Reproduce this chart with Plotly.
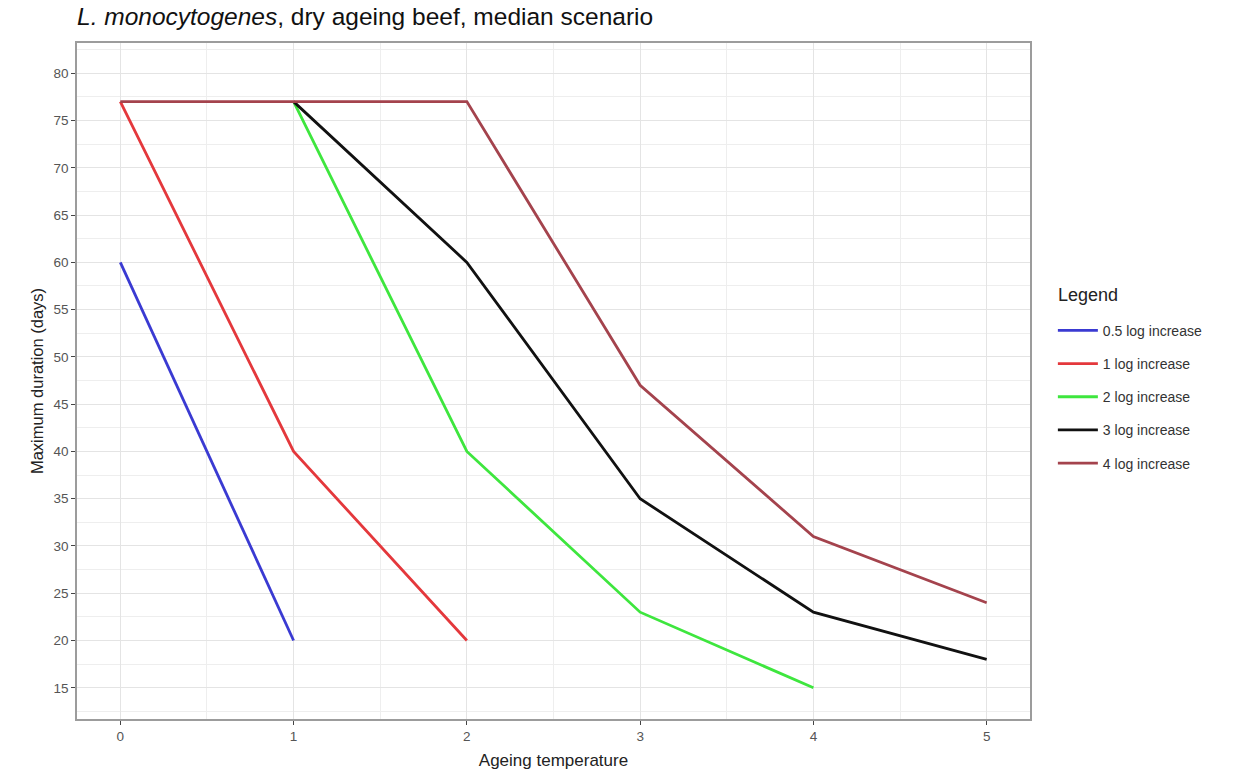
import plotly.graph_objects as go

# Ageing temperature (°C) and maximum duration (days) per growth threshold
temp_05 = [0, 1]
days_05 = [60, 20]

temp_1 = [0, 1, 2]
days_1 = [77, 40, 20]

temp_2 = [1, 2, 3, 4]
days_2 = [77, 40, 23, 15]

temp_3 = [1, 2, 3, 4, 5]
days_3 = [77, 60, 35, 23, 18]

temp_4 = [0, 1, 2, 3, 4, 5]
days_4 = [77, 77, 77, 47, 31, 24]

series_names = ["0.5 log increase", "1 log increase", "2 log increase",
                "3 log increase", "4 log increase"]
x_ticks = [0, 1, 2, 3, 4, 5]
y_ticks = [15, 20, 25, 30, 35, 40, 45, 50, 55, 60, 65, 70, 75, 80]

colors = ["#3a3ad2", "#e4383c", "#3ee63e", "#111111", "#a4434d"]
series = [(temp_05, days_05), (temp_1, days_1), (temp_2, days_2),
          (temp_3, days_3), (temp_4, days_4)]

fig = go.Figure()
for i, ((xs, ys), name, col) in enumerate(zip(series, series_names, colors)):
    fig.add_trace(go.Scatter(
        x=xs, y=ys, mode="lines", name=name,
        line=dict(color=col, width=2.8),
        legendgroup=f"g{i}",
    ))

font_family = "Liberation Sans, Arial, sans-serif"

# Legend heading placed above the legend entries
fig.add_annotation(
    text="Legend", xref="paper", yref="paper",
    x=1.0275, y=0.627, xanchor="left", yanchor="middle",
    showarrow=False, font=dict(size=18, color="#222222"),
)

fig.update_layout(
    width=1234, height=770,
    margin=dict(l=77, r=204, t=43, b=51),
    paper_bgcolor="white",
    plot_bgcolor="white",
    font=dict(family=font_family, color="#222222"),
    title=dict(
        text="<i>L. monocytogenes</i>, dry ageing beef, median scenario",
        x=77 / 1234, xanchor="left", y=1 - 16 / 770, yanchor="middle",
        font=dict(size=24.5, color="#111111"),
    ),
    legend=dict(
        x=1.024, xanchor="left", y=0.598, yanchor="top",
        font=dict(size=14, color="#333333"),
        tracegroupgap=12,
        traceorder="grouped",
        itemwidth=40,
        bgcolor="rgba(0,0,0,0)",
    ),
    xaxis=dict(
        range=[-0.25, 5.25],
        tickmode="array", tickvals=x_ticks,
        ticktext=[str(v) for v in x_ticks],
        ticks="outside", ticklen=4, tickwidth=1.2, tickcolor="#444444",
        tickfont=dict(size=13.5, color="#555555"),
        showgrid=True, gridcolor="#e4e4e4", gridwidth=1,
        minor=dict(dtick=0.5, tick0=0, showgrid=True,
                   gridcolor="#eeeeee", gridwidth=0.6, ticks=""),
        showline=True, mirror=True, linecolor="#9c9c9c", linewidth=1.5,
        zeroline=False,
        automargin=False,
        title=dict(text="Ageing temperature", font=dict(size=17, color="#222222"),
                   standoff=14),
    ),
    yaxis=dict(
        range=[11.7, 83.2],
        tickmode="array", tickvals=y_ticks,
        ticktext=[str(v) for v in y_ticks],
        ticks="outside", ticklen=4, tickwidth=1.2, tickcolor="#444444",
        tickfont=dict(size=13.5, color="#555555"),
        showgrid=True, gridcolor="#e4e4e4", gridwidth=1,
        minor=dict(dtick=2.5, tick0=0, showgrid=True,
                   gridcolor="#eeeeee", gridwidth=0.6, ticks=""),
        showline=True, mirror=True, linecolor="#9c9c9c", linewidth=1.5,
        zeroline=False,
        automargin=False,
        title=dict(text="Maximum duration (days)", font=dict(size=16.5, color="#222222"),
                   standoff=6),
    ),
)

fig.write_html("out.html")
